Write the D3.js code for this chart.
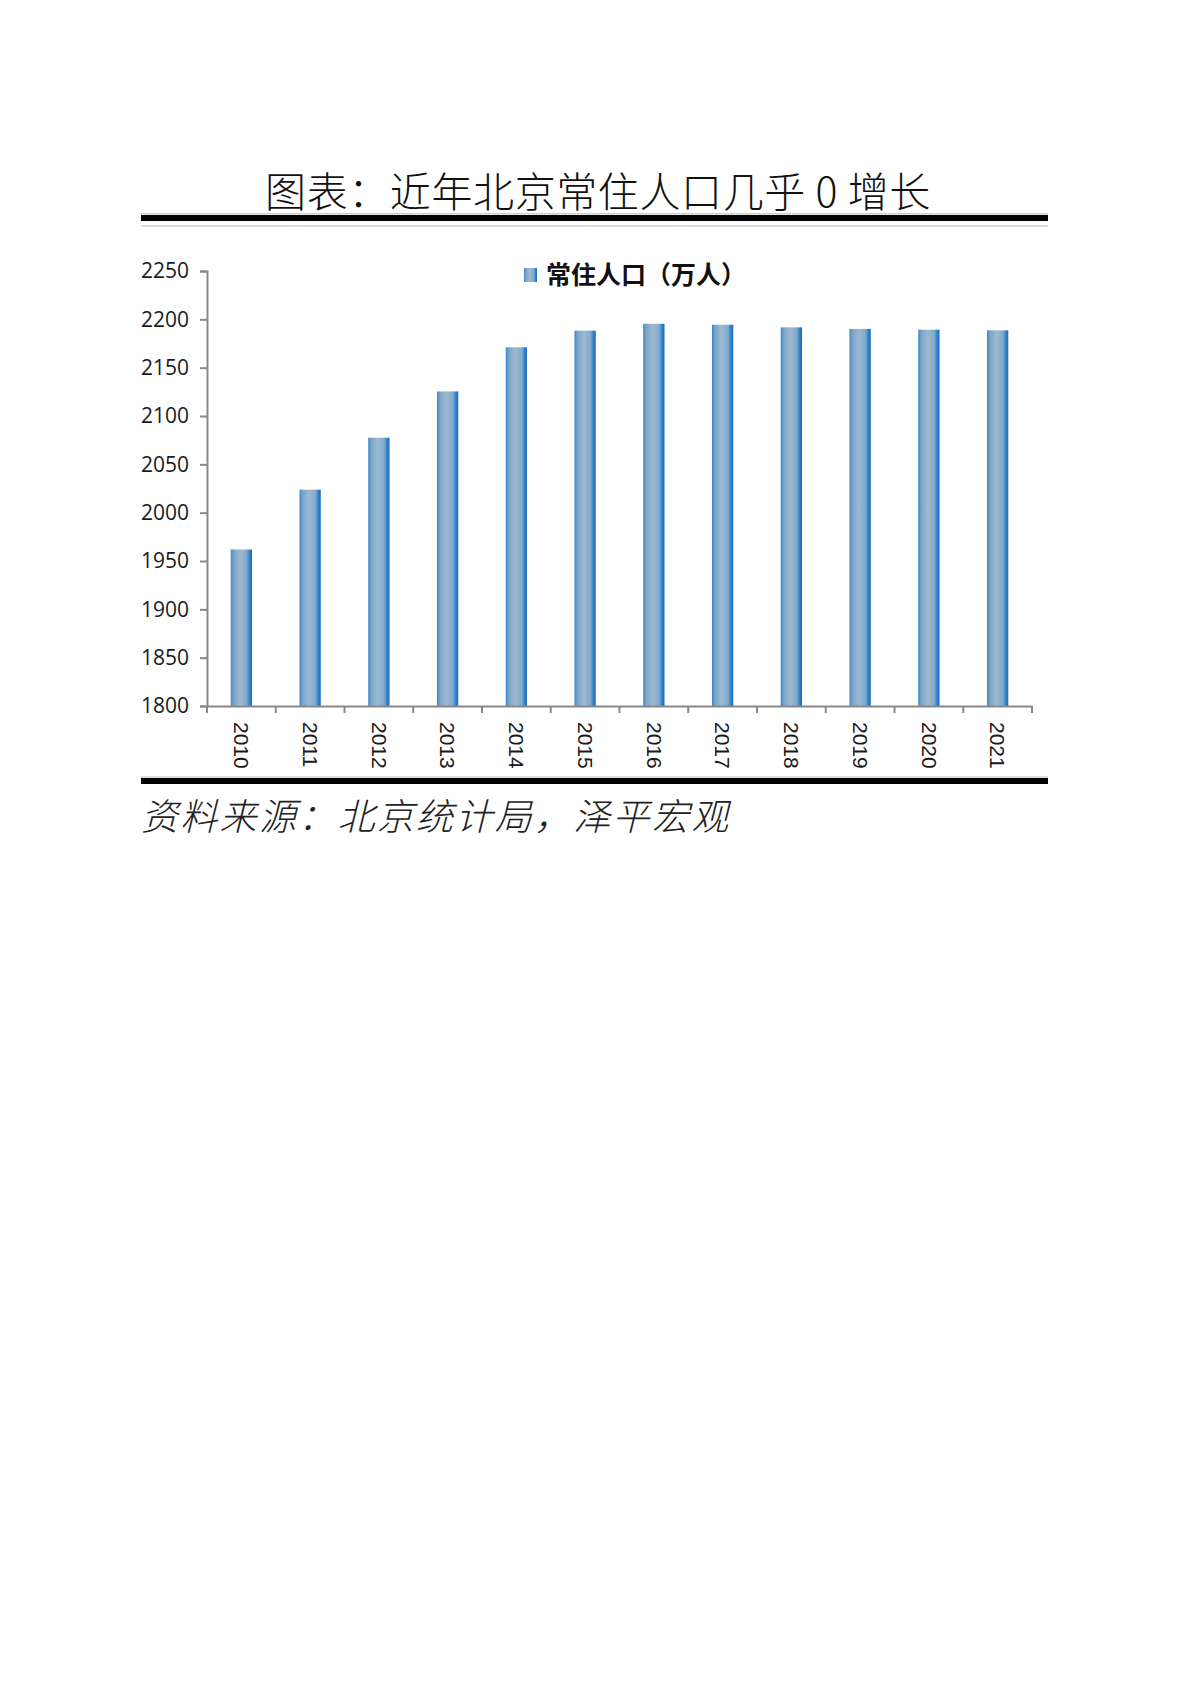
<!DOCTYPE html>
<html>
  <head>
    <meta charset="utf-8">
    <title>近年北京常住人口几乎0增长</title>
    <script src="https://d3js.org/d3.v7.min.js"></script>
    <style>
      body { margin: 0; background: #fff; }
    </style>
  </head>
  <body>
    <svg width="1189" height="1683"></svg>

    <script>
      // data (万人)
      const years = ["2010", "2011", "2012", "2013", "2014", "2015",
                     "2016", "2017", "2018", "2019", "2020", "2021"];
      const population = [1961.9, 2023.8, 2077.5, 2125.4, 2171.1, 2188.3,
                          2195.4, 2194.4, 2191.7, 2190.1, 2189.3, 2188.6];
      const yTicks = [1800, 1850, 1900, 1950, 2000, 2050, 2100, 2150, 2200, 2250];

      const titleText = "图表：近年北京常住人口几乎 0 增长";
      const legendText = "常住人口（万人）";
      const sourceText = "资料来源：北京统计局，泽平宏观";

      const svg = d3.select("svg");
      const cjk = "'Noto Sans CJK SC', sans-serif";

      const plotLeft = 207, plotRight = 1032, plotTop = 271, plotBottom = 706;

      const x = d3.scaleBand().domain(years).range([plotLeft, plotRight]).paddingInner(0.69).paddingOuter(0.345);
      const y = d3.scaleLinear().domain([1800, 2250]).range([plotBottom, plotTop]);

      // bar gradient: blue edges, greyish centre
      const grad = svg.append("defs").append("linearGradient")
        .attr("id", "barFill").attr("x1", "0").attr("x2", "1").attr("y1", "0").attr("y2", "0");
      [[0, "#3f86c6"], [0.15, "#7aa5ca"], [0.45, "#9fb9ce"], [0.75, "#7eaad0"], [0.9, "#2e7cc4"], [1, "#1a6fbf"]]
        .forEach(([o, c]) => grad.append("stop").attr("offset", o).attr("stop-color", c));

      // title and rules
      svg.append("text")
        .attr("x", 598).attr("y", 207)
        .attr("text-anchor", "middle")
        .style("font-family", cjk).style("font-weight", 300).style("font-size", "41px")
        .style("letter-spacing", "0.6px")
        .attr("fill", "#111")
        .text(titleText);

      svg.append("rect").attr("x", 141).attr("y", 213).attr("width", 907).attr("height", 1.5).attr("fill", "#ccc");
      svg.append("rect").attr("x", 141).attr("y", 215).attr("width", 907).attr("height", 6).attr("fill", "#000");
      svg.append("rect").attr("x", 141).attr("y", 225).attr("width", 907).attr("height", 2).attr("fill", "#ddd");

      svg.append("rect").attr("x", 141).attr("y", 776).attr("width", 907).attr("height", 2).attr("fill", "#ddd");
      svg.append("rect").attr("x", 141).attr("y", 778).attr("width", 907).attr("height", 6).attr("fill", "#000");

      // bars
      svg.selectAll("rect.bar")
        .data(population)
        .enter()
        .append("rect")
        .attr("class", "bar")
        .attr("x", (d, i) => x(years[i]))
        .attr("y", d => y(d))
        .attr("width", x.bandwidth())
        .attr("height", d => plotBottom - y(d))
        .attr("fill", "url(#barFill)");

      // y axis
      const yAxis = svg.append("g")
        .attr("transform", `translate(${plotLeft},0)`)
        .call(d3.axisLeft(y).tickValues(yTicks).tickSize(7).tickPadding(11).tickFormat(d3.format("d")));
      yAxis.select(".domain").attr("stroke", "#888").attr("stroke-width", 2);
      yAxis.selectAll(".tick line").attr("stroke", "#888").attr("stroke-width", 2);
      yAxis.selectAll(".tick text")
        .style("font-family", "'Open Sans', sans-serif").style("font-size", "21px").attr("fill", "#1a1a1a");

      // x axis, ticks at band edges
      const xAxis = svg.append("g")
        .attr("transform", `translate(0,${plotBottom})`)
        .call(d3.axisBottom(x).tickSize(0).tickSizeOuter(0).tickPadding(0));
      xAxis.select(".domain").attr("stroke", "#888").attr("stroke-width", 2);
      const step = x.step();
      xAxis.selectAll(".edge")
        .data(d3.range(years.length + 1))
        .enter()
        .append("line")
        .attr("class", "edge")
        .attr("x1", i => plotLeft + i * step).attr("x2", i => plotLeft + i * step)
        .attr("y1", 0).attr("y2", 7)
        .attr("stroke", "#888").attr("stroke-width", 2);
      xAxis.selectAll(".tick text")
        .attr("transform", "rotate(90)")
        .attr("x", 16).attr("y", 0).attr("dy", "0.35em")
        .attr("text-anchor", "start")
        .style("font-family", "'Liberation Sans', Arial, sans-serif").style("font-size", "21px").attr("fill", "#1a1a1a");

      // legend
      svg.append("rect").attr("x", 524).attr("y", 268).attr("width", 13).attr("height", 14).attr("fill", "url(#barFill)");
      svg.append("text")
        .attr("x", 546).attr("y", 284)
        .style("font-family", cjk).style("font-weight", 700).style("font-size", "25px")
        .attr("fill", "#111")
        .text(legendText);

      // source
      svg.append("text")
        .attr("x", 141).attr("y", 830)
        .style("font-family", cjk).style("font-weight", 300).style("font-style", "italic").style("font-size", "37px")
        .style("letter-spacing", "2.3px")
        .attr("fill", "#222")
        .text(sourceText);
    </script>
  </body>
</html>
